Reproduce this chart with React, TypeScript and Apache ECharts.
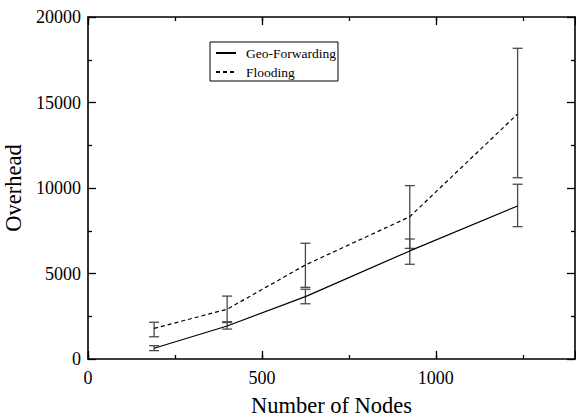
import React, { useEffect, useRef } from "react";
import * as echarts from "echarts";

// Network size (number of nodes) at each measurement
const nodeCounts = [190, 400, 625, 925, 1235];

// Geo-Forwarding overhead: mean and error range
const geoMean = [630, 1930, 3650, 6320, 8950];
const geoLow = [490, 1750, 3230, 5540, 7740];
const geoHigh = [780, 2180, 4080, 7020, 10220];

// Flooding overhead: mean and error range
const floodMean = [1790, 2910, 5500, 8320, 14330];
const floodLow = [1300, 2130, 4190, 6470, 10600];
const floodHigh = [2150, 3680, 6770, 10140, 18170];

const seriesNames = ["Geo-Forwarding", "Flooding"];
const xTickLabels = [0, 500, 1000];
const yTickLabels = [0, 5000, 10000, 15000, 20000];

const FONT = "'Liberation Serif', 'Times New Roman', Times, serif";

function errorBarSeries(low: number[], high: number[]) {
  return {
    type: "custom",
    xAxisIndex: 0,
    yAxisIndex: 0,
    silent: true,
    z: 3,
    encode: { x: 0, y: [1, 2] },
    data: nodeCounts.map((x, i) => [x, low[i], high[i]]),
    renderItem: (_params: any, api: any) => {
      const x = api.value(0);
      const pLo = api.coord([x, api.value(1)]);
      const pHi = api.coord([x, api.value(2)]);
      const hw = 5;
      const style = { stroke: "#4a4a4a", lineWidth: 1.3, fill: "none" };
      return {
        type: "group",
        children: [
          { type: "line", shape: { x1: pLo[0], y1: pLo[1], x2: pHi[0], y2: pHi[1] }, style },
          { type: "line", shape: { x1: pLo[0] - hw, y1: pLo[1], x2: pLo[0] + hw, y2: pLo[1] }, style },
          { type: "line", shape: { x1: pHi[0] - hw, y1: pHi[1], x2: pHi[0] + hw, y2: pHi[1] }, style },
        ],
      };
    },
  };
}

export default function App() {
  const ref = useRef<HTMLDivElement>(null);

  useEffect(() => {
    if (!ref.current) return;
    const chart = echarts.init(ref.current, null, { renderer: "svg" });
    const gridRect = {
      left: 88,
      right: 1,
      top: 17,
      bottom: 59,
      containLabel: false,
      outerBoundsMode: "none",
    };
    const frameLine = { show: true, onZero: false, lineStyle: { color: "#000", width: 1.6 } };
    const noLine = { show: false, onZero: false };
    const majorTick = { show: true, inside: true, length: 8, lineStyle: { color: "#000", width: 1.3 } };
    const minorTickX = { show: true, inside: true, length: 4, lineStyle: { color: "#000", width: 1.3 } };
    const minorTickY = { show: true, splitNumber: 2, length: 4, lineStyle: { color: "#000", width: 1.3 } };

    chart.setOption({
      animation: false,
      backgroundColor: "#fff",
      textStyle: { fontFamily: FONT, color: "#000" },
      grid: [{ ...gridRect }, { ...gridRect }],
      legend: {
        data: seriesNames,
        orient: "vertical",
        left: 210,
        top: 42,
        itemWidth: 20,
        itemHeight: 14,
        itemGap: 5,
        padding: [4, 2, 2, 5],
        borderColor: "#000",
        borderWidth: 1,
        backgroundColor: "#fff",
        borderRadius: 0,
        itemStyle: { opacity: 0 },
        textStyle: { fontFamily: FONT, fontSize: 13.5, color: "#000", padding: [0, 0, 0, 5] },
      },
      xAxis: [
        {
          gridIndex: 0,
          type: "value",
          position: "bottom",
          min: 0,
          max: 1400,
          interval: 500,
          name: "Number of Nodes",
          nameLocation: "middle",
          nameGap: 35,
          nameTextStyle: { fontFamily: FONT, fontSize: 22.5, color: "#000" },
          axisLine: frameLine,
          axisTick: majorTick,
          axisLabel: {
            fontFamily: FONT,
            fontSize: 18,
            color: "#000",
            margin: 10,
            formatter: (v: number) => (xTickLabels.includes(v) ? String(v) : ""),
          },
          splitLine: { show: false },
        },
        {
          gridIndex: 0,
          type: "value",
          position: "top",
          min: 0,
          max: 1400,
          interval: 500,
          axisLine: frameLine,
          axisTick: majorTick,
          axisLabel: { show: false },
          splitLine: { show: false },
        },
        {
          gridIndex: 1,
          type: "value",
          position: "bottom",
          min: 0,
          max: 1400,
          interval: 250,
          axisLine: noLine,
          axisTick: minorTickX,
          axisLabel: { show: false },
          splitLine: { show: false },
        },
        {
          gridIndex: 1,
          type: "value",
          position: "top",
          min: 0,
          max: 1400,
          interval: 250,
          axisLine: noLine,
          axisTick: minorTickX,
          axisLabel: { show: false },
          splitLine: { show: false },
        },
      ],
      yAxis: [
        {
          gridIndex: 0,
          type: "value",
          position: "left",
          min: 0,
          max: 20000,
          interval: 5000,
          name: "Overhead",
          nameLocation: "middle",
          nameGap: 60,
          nameTextStyle: { fontFamily: FONT, fontSize: 22.5, color: "#000" },
          axisLine: frameLine,
          axisTick: majorTick,
          minorTick: minorTickY,
          axisLabel: {
            fontFamily: FONT,
            fontSize: 18,
            color: "#000",
            margin: 7,
            formatter: (v: number) => (yTickLabels.includes(v) ? String(v) : ""),
          },
          splitLine: { show: false },
        },
        {
          gridIndex: 0,
          type: "value",
          position: "right",
          min: 0,
          max: 20000,
          interval: 5000,
          axisLine: frameLine,
          axisTick: majorTick,
          minorTick: minorTickY,
          axisLabel: { show: false },
          splitLine: { show: false },
        },
        {
          gridIndex: 1,
          type: "value",
          min: 0,
          max: 20000,
          show: false,
        },
      ],
      series: [
        {
          name: seriesNames[0],
          type: "line",
          xAxisIndex: 0,
          yAxisIndex: 0,
          data: nodeCounts.map((x, i) => [x, geoMean[i]]),
          symbol: "none",
          lineStyle: { color: "#000", width: 1.2, type: "solid" },
          itemStyle: { color: "#000" },
          z: 4,
        },
        {
          name: seriesNames[1],
          type: "line",
          xAxisIndex: 0,
          yAxisIndex: 0,
          data: nodeCounts.map((x, i) => [x, floodMean[i]]),
          symbol: "none",
          lineStyle: { color: "#000", width: 1.2, type: [4, 3] },
          itemStyle: { color: "#000" },
          z: 4,
        },
        errorBarSeries(geoLow, geoHigh),
        errorBarSeries(floodLow, floodHigh),
      ],
    });

    return () => chart.dispose();
  }, []);

  return (
    <div style={{ position: "fixed", left: 0, top: 0, width: 576, height: 418, background: "#fff" }}>
      <div ref={ref} style={{ width: 576, height: 418 }} />
    </div>
  );
}
